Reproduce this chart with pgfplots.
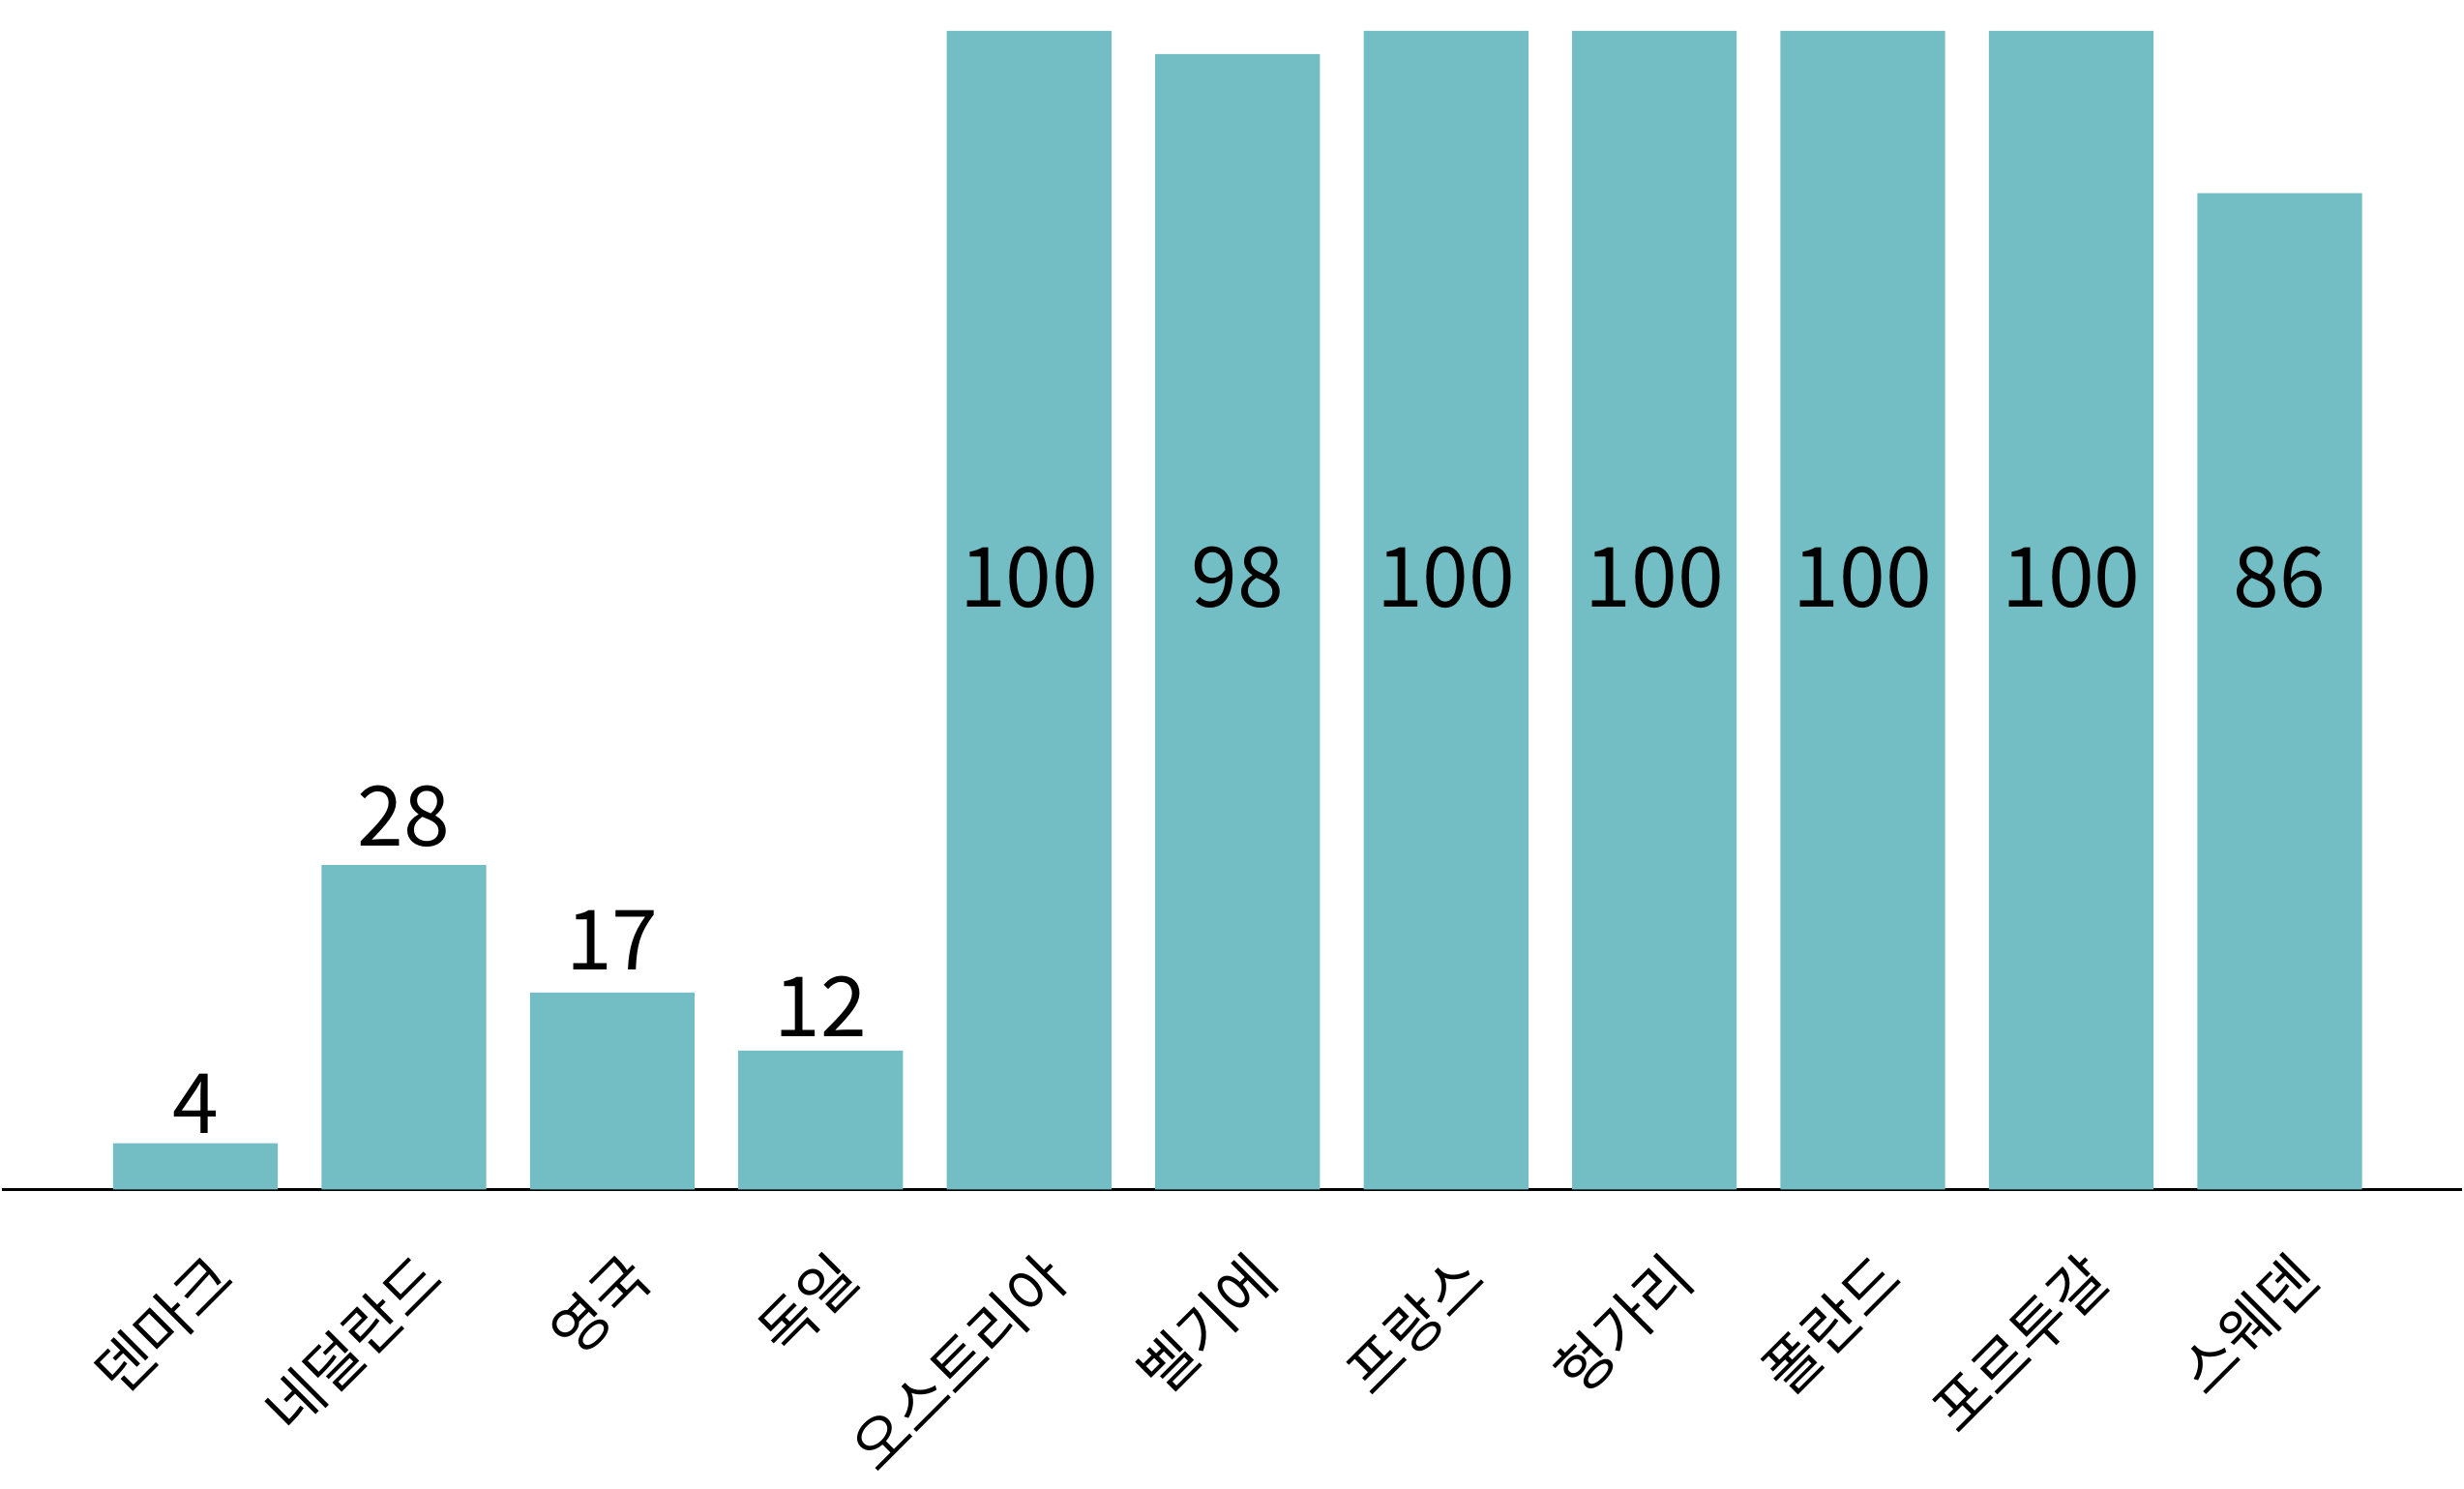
\documentclass[border=0pt]{standalone}
\usepackage{pgfplots}
\pgfplotsset{compat=1.18}
\usepackage{fontspec}
\setmainfont{Noto Sans CJK KR}
\definecolor{barc}{RGB}{114,190,196}
\begin{document}
\begin{tikzpicture}
\begin{axis}[
  scale only axis,
  width=25.47cm, height=12.31cm,
  xmin=-0.93, xmax=10.877, ymin=0, ymax=102.67,
  separate axis lines,
  axis x line*=bottom,
  hide y axis,
  x axis line style={-, black, line width=0.9pt},
  major tick length=0pt,
  xtick={0,1,2,3,4,5,6,7,8,9,10},
  xticklabels={덴마크,네덜란드,영국,독일,오스트리아,벨기에,프랑스,헝가리,폴란드,포르투갈,스웨덴},
  xticklabel style={font=\fontsize{17.5}{20}\selectfont, inner sep=0pt, xshift=2.8mm, yshift=-7.9mm, rotate=45, anchor=east},
  clip=false,
]
\addplot[ybar, bar width=0.79, fill=barc, draw=none] coordinates {
 (0,4) (1,28) (2,17) (3,12) (4,100) (5,98) (6,100) (7,100) (8,100) (9,100) (10,86)
};
\addplot[draw=none, mark=none, nodes near coords, point meta=explicit symbolic,
  every node near coord/.style={anchor=center, inner sep=0pt, font=\fontsize{24.5}{28}\selectfont}]
 table[meta=l] {
x y l
0 7.4 4
1 32.2 28
2 21.5 17
3 15.8 12
4 52.8 100
5 52.8 98
6 52.8 100
7 52.8 100
8 52.8 100
9 52.8 100
10 52.8 86
};
\path (rel axis cs:0,1) -- (rel axis cs:0,0) -- ++(0,-30.9mm);
\end{axis}
\end{tikzpicture}
\end{document}
